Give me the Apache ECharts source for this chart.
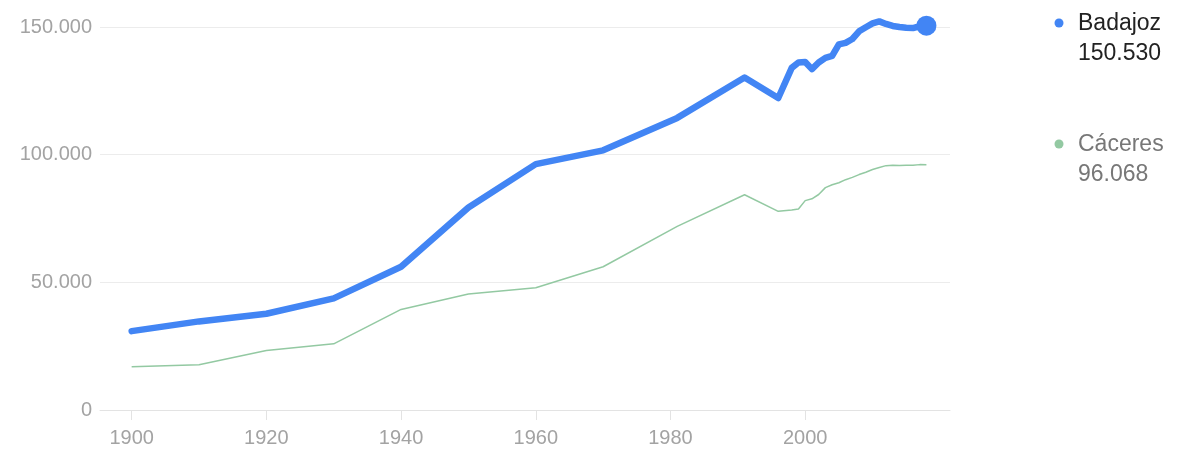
<!DOCTYPE html>
<html>
<head>
<meta charset="utf-8">
<script src="https://cdn.jsdelivr.net/npm/echarts@6/dist/echarts.min.js"></script>
<style>
  html, body { margin: 0; padding: 0; background: #fff; }
  #chart { width: 1186px; height: 450px; }
</style>
</head>
<body>
<div id="chart"></div>
<script>
// years with data (censos hasta 1991, padrón después)
var years = [1900, 1910, 1920, 1930, 1940, 1950, 1960, 1970, 1981, 1991, 1996, 1998, 1999, 2000,
             2001, 2002, 2003, 2004, 2005, 2006, 2007, 2008, 2009, 2010, 2011, 2012, 2013, 2014,
             2015, 2016, 2017, 2018];
var badajoz = [30900, 34700, 37700, 43700, 56100, 79300, 96300, 101700, 114400, 130200, 122200, 134000, 136100, 136300,
               133500, 136100, 137900, 138700, 143200, 143800, 145300, 148300, 149900, 151400, 152200, 151200, 150400, 150000,
               149700, 149600, 150300, 150530];
var caceres = [16900, 17700, 23300, 25900, 39400, 45400, 47900, 56100, 71900, 84300, 77800, 78300, 78700, 82000,
               82700, 84400, 87100, 88200, 89000, 90200, 91100, 92200, 93100, 94200, 95000, 95700, 95900, 95800,
               95900, 95900, 96100, 96068];
var seriesNames = ['Badajoz', 'Cáceres'];
var xTicks = [1900, 1920, 1940, 1960, 1980, 2000];

var blue = '#4285f4', green = '#93c9a2';
var font = '"Liberation Sans", Arial, sans-serif';

function fmt(v) {
    return String(Math.round(v)).replace(/\B(?=(\d{3})+(?!\d))/g, '.');
}
function pairs(ys) {
    var out = [];
    for (var i in years) {
        out.push([years[i], ys[i]]);
    }
    return out;
}

var myChart = echarts.init(document.getElementById('chart'));
var last = years.length - 1;

var option = {
    animation: false,
    grid: { left: 100, right: 236, top: 27, bottom: 40, containLabel: false },
    xAxis: {
        type: 'value',
        min: 1895.3,
        max: 2021.5,
        splitLine: { show: false },
        axisLine: { show: true, lineStyle: { color: '#e3e3e3', width: 1 } },
        axisTick: { show: true, customValues: xTicks, length: 10, lineStyle: { color: '#e3e3e3' } },
        axisLabel: {
            customValues: xTicks,
            color: '#a3a3a3', fontSize: 20, fontFamily: font, margin: 18,
            formatter: function (v) { return String(v); }
        }
    },
    yAxis: {
        type: 'value',
        min: 0,
        max: 150000,
        interval: 50000,
        axisLine: { show: false },
        axisTick: { show: false },
        splitLine: { lineStyle: { color: '#ececec', width: 1 } },
        axisLabel: {
            color: '#a3a3a3', fontSize: 20, fontFamily: font, margin: 8,
            formatter: function (v) { return fmt(v); }
        }
    },
    series: [
        {
            name: seriesNames[1],
            type: 'line',
            data: pairs(caceres),
            showSymbol: false,
            clip: false,
            z: 2,
            lineStyle: { color: green, width: 1.5 }
        },
        {
            name: seriesNames[0],
            type: 'line',
            data: pairs(badajoz),
            showSymbol: false,
            clip: false,
            z: 3,
            lineStyle: { color: blue, width: 6.5, cap: 'round', join: 'round' }
        },
        {
            name: seriesNames[0] + ' end',
            type: 'scatter',
            data: [[years[last], badajoz[last]]],
            symbolSize: 20,
            clip: false,
            z: 4,
            itemStyle: { color: blue, opacity: 1 }
        }
    ],
    graphic: [
        { type: 'circle', shape: { cx: 1059, cy: 23, r: 4.5 }, style: { fill: blue } },
        { type: 'text', x: 1078, y: 24, style: { text: seriesNames[0], font: '23px ' + font, fill: '#222', verticalAlign: 'middle' } },
        { type: 'text', x: 1078, y: 54, style: { text: fmt(badajoz[last]), font: '23px ' + font, fill: '#222', verticalAlign: 'middle' } },
        { type: 'circle', shape: { cx: 1059, cy: 144, r: 4.5 }, style: { fill: green } },
        { type: 'text', x: 1078, y: 145, style: { text: seriesNames[1], font: '23px ' + font, fill: '#777', verticalAlign: 'middle' } },
        { type: 'text', x: 1078, y: 175, style: { text: fmt(caceres[last]), font: '23px ' + font, fill: '#777', verticalAlign: 'middle' } }
    ]
};

myChart.setOption(option);
</script>
</body>
</html>
